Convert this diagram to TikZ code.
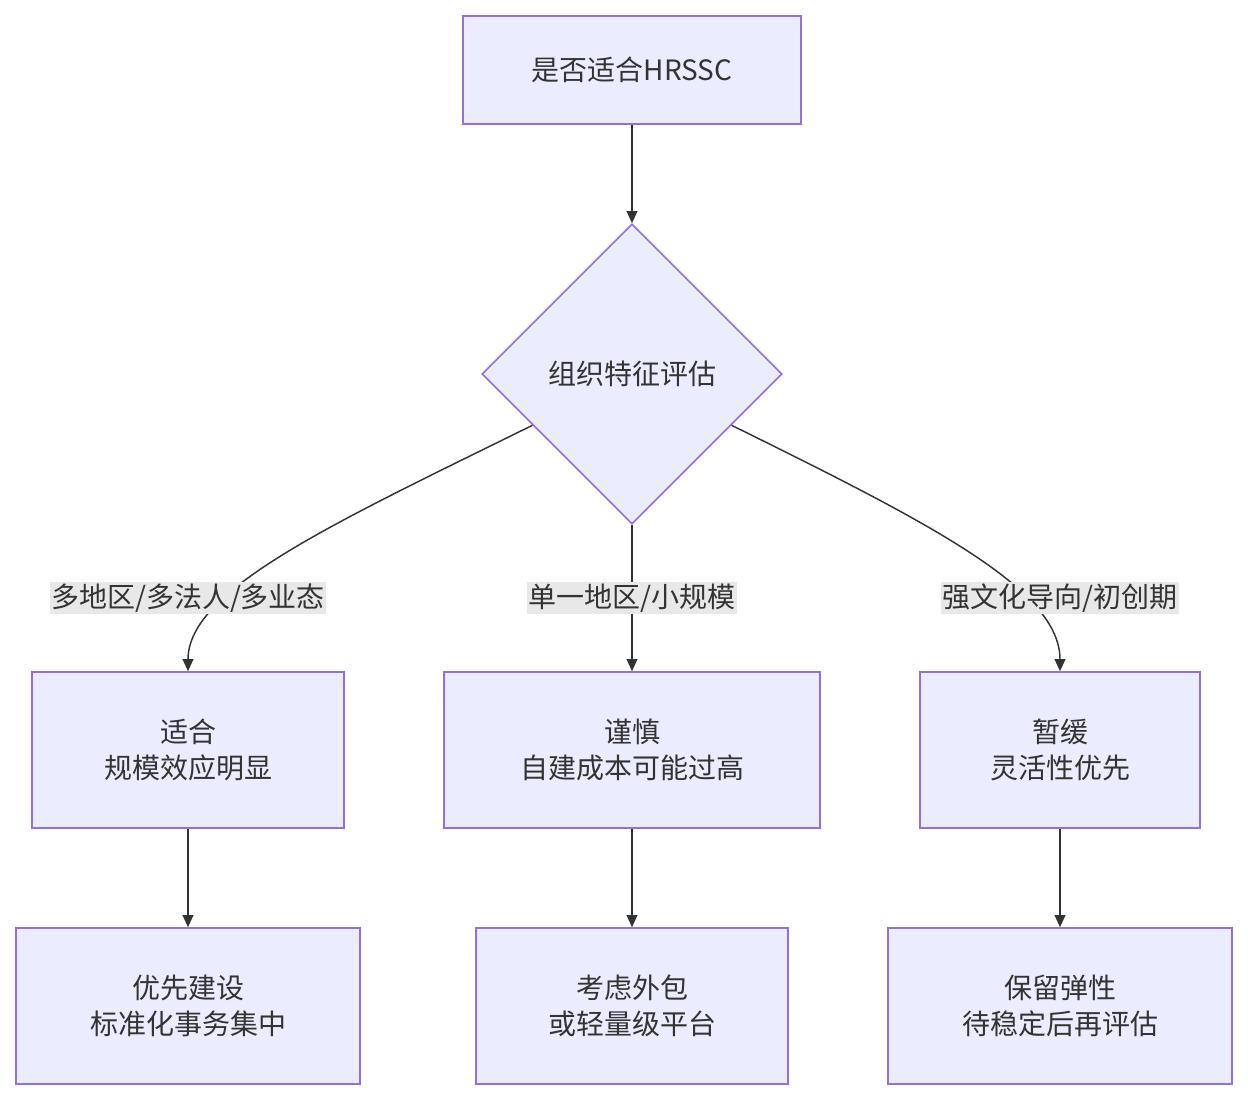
\documentclass[tikz,border=0pt]{standalone}
\usepackage{fontspec}
\setmainfont{Noto Sans CJK SC}
\usetikzlibrary{shapes.geometric,arrows.meta,calc}
\definecolor{boxfill}{HTML}{ECECFF}
\definecolor{boxline}{HTML}{9370DB}
\definecolor{edge}{HTML}{333333}
\definecolor{lbl}{HTML}{E8E8E8}
\tikzset{
  box/.style={draw=boxline,fill=boxfill,line width=1.2pt,inner sep=0pt,align=center,font=\fontsize{21}{27}\selectfont,text=edge},
  dia/.style={draw=boxline,fill=boxfill,line width=1.2pt,diamond,inner sep=0pt,minimum width=225pt,minimum height=225pt,aspect=1,font=\fontsize{21}{27}\selectfont,text=edge},
  conn/.style={draw=edge,line width=1.1pt,-{Triangle[length=9pt,width=8pt]}},
  elabel/.style={fill=lbl,inner sep=1pt,font=\fontsize{21}{27}\selectfont,text=edge}
}
\begin{document}
\begin{tikzpicture}[x=0.75pt,y=-0.75pt]
\useasboundingbox (0,0) rectangle (1248,1100);
\node[box,minimum width=253.5pt,minimum height=81pt] (top) at (632,70) {是否适合HRSSC};
\node[dia] (d) at (632,374) {组织特征评估};
\node[box,minimum width=234pt,minimum height=117pt] (a) at (188,750) {适合\\规模效应明显};
\node[box,minimum width=282pt,minimum height=117pt] (b) at (632,750) {谨慎\\自建成本可能过高};
\node[box,minimum width=210pt,minimum height=117pt] (c) at (1060,750) {暂缓\\灵活性优先};
\node[box,minimum width=258pt,minimum height=117pt] (a2) at (188,1006) {优先建设\\标准化事务集中};
\node[box,minimum width=234pt,minimum height=117pt] (b2) at (632,1006) {考虑外包\\或轻量级平台};
\node[box,minimum width=258pt,minimum height=117pt] (c2) at (1060,1006) {保留弹性\\待稳定后再评估};
\coordinate (dl) at ($(d.west)!0.34!(d.south)$);
\coordinate (dr) at ($(d.east)!0.34!(d.south)$);
\draw[conn] (top) -- (d);
\draw[conn] (dl) .. controls (330,525) and (188,590) .. (a.north);
\draw[conn] (dr) .. controls (934,525) and (1060,590) .. (c.north);
\draw[conn] (d.south) -- (b.north);
\node[elabel] (la) at (188,598) {多地区/多法人/多业态};
\node[elabel] (lb) at (632,598) {单一地区/小规模};
\node[elabel] (lc) at (1060,598) {强文化导向/初创期};
\draw[conn] (a) -- (a2);
\draw[conn] (b) -- (b2);
\draw[conn] (c) -- (c2);
\end{tikzpicture}
\end{document}
